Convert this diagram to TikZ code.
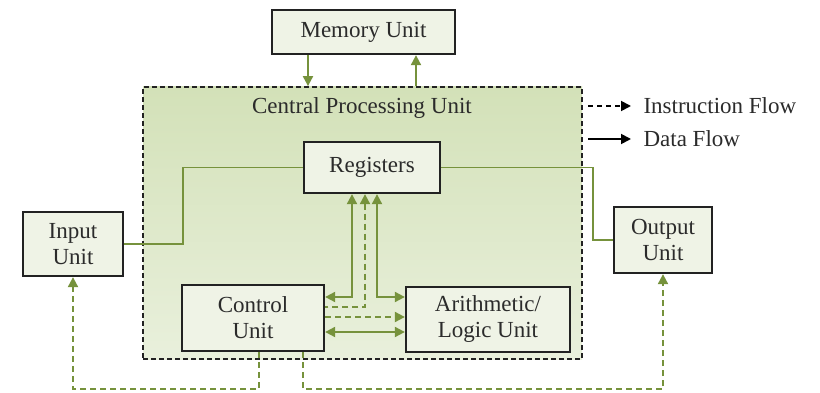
\documentclass[tikz,border=0pt]{standalone}
\usepackage{fontspec}
\setmainfont{Liberation Serif}
\usetikzlibrary{arrows.meta}

\definecolor{flowgreen}{HTML}{76923C}
\definecolor{boxfill}{HTML}{EFF3E6}
\definecolor{cpudark}{HTML}{D3E1B8}
\definecolor{cpulight}{HTML}{E9F0DC}
\definecolor{boxline}{HTML}{222222}
\definecolor{txt}{HTML}{2B2B2B}

\begin{document}
\begin{tikzpicture}[x=1pt,y=-1pt,
    >={Triangle[length=10pt,width=10pt]},
    unit/.style={draw=boxline, line width=2.3pt, fill=boxfill, text=txt,
        inner sep=0pt, align=center, font=\fontsize{23}{26}\selectfont},
    cpubox/.style={draw=boxline, line width=1.8pt, dash pattern=on 5pt off 3pt,
        top color=cpudark, bottom color=cpulight},
    data/.style={draw=flowgreen, line width=2pt},
    instr/.style={data, dash pattern=on 6pt off 4pt},
    legend/.style={text=txt, anchor=west, font=\fontsize{23}{26}\selectfont}]

    \useasboundingbox (0,0) rectangle (820,393);

    % CPU frame and its title
    \node[cpubox, minimum width=439pt, minimum height=272pt] (cpu) at (362.5,223) {};
    \node[text=txt, font=\fontsize{23}{26}\selectfont] (cputitle) at (362,108) {Central Processing Unit};

    % Units
    \node[unit, minimum width=183pt, minimum height=44pt] (mem) at (363.5,32) {Memory Unit};
    \node[unit, minimum width=136pt, minimum height=51pt] (reg) at (372,167.5) {Registers};
    \node[unit, minimum width=100pt, minimum height=64pt] (in) at (73,244) {Input\\Unit};
    \node[unit, minimum width=98pt, minimum height=66pt] (out) at (663,240) {Output\\Unit};
    \node[unit, minimum width=142pt, minimum height=66pt] (cu) at (253,318) {Control\\Unit};
    \node[unit, minimum width=164pt, minimum height=65pt] (alu) at (488,319.5) {Arithmetic/\\Logic Unit};

    % Memory <-> CPU
    \draw[data,->] ([xshift=-55.5pt]mem.south) -- ([xshift=-55.5pt]mem.south |- cpu.north);
    \draw[data,->] ([xshift=52.5pt]mem.south |- cpu.north) -- ([xshift=52.5pt]mem.south);

    % Input and output lines to the registers
    \draw[data, line width=1.5pt] (in.east) -- ++(59,0) |- (reg.west);
    \draw[data, line width=1.5pt] (reg.east) -- ++(152,0) |- (out.west);

    % Registers, control unit and ALU
    \draw[data,<->] ([xshift=-20pt]reg.south) |- ([yshift=21pt]cu.east);
    \draw[instr,<-] ([xshift=-7pt]reg.south) |- ([yshift=11pt]cu.east);
    \draw[data,<->] ([xshift=5pt]reg.south) |- ([yshift=22.5pt]alu.west);
    \draw[instr,->] ([yshift=1pt]cu.east) -- ([yshift=1pt]cu.east -| alu.west);
    \draw[data,<->] ([yshift=-14pt]cu.east) -- ([yshift=-14pt]cu.east -| alu.west);

    % Control unit to input and output
    \draw[instr,->] ([xshift=6pt]cu.south) -- ++(0,37) -| (in.south);
    \draw[instr,->] ([xshift=50pt]cu.south) -- ++(0,37) -| (out.south);

    % Legend
    \node[legend] (lgi) at (640,106) {Instruction Flow};
    \node[legend] (lgd) at (640,139) {Data Flow};
    \coordinate (lgi0) at (588,106);
    \coordinate (lgd0) at (588,139);
    \draw[line width=1.8pt, dash pattern=on 5pt off 4pt, -{Triangle[length=10pt,width=10pt]}] (lgi0) -- ([xshift=-9pt]lgi.west);
    \draw[line width=1.8pt, -{Triangle[length=10pt,width=10pt]}] (lgd0) -- ([xshift=-9pt]lgd.west);
\end{tikzpicture}
\end{document}
